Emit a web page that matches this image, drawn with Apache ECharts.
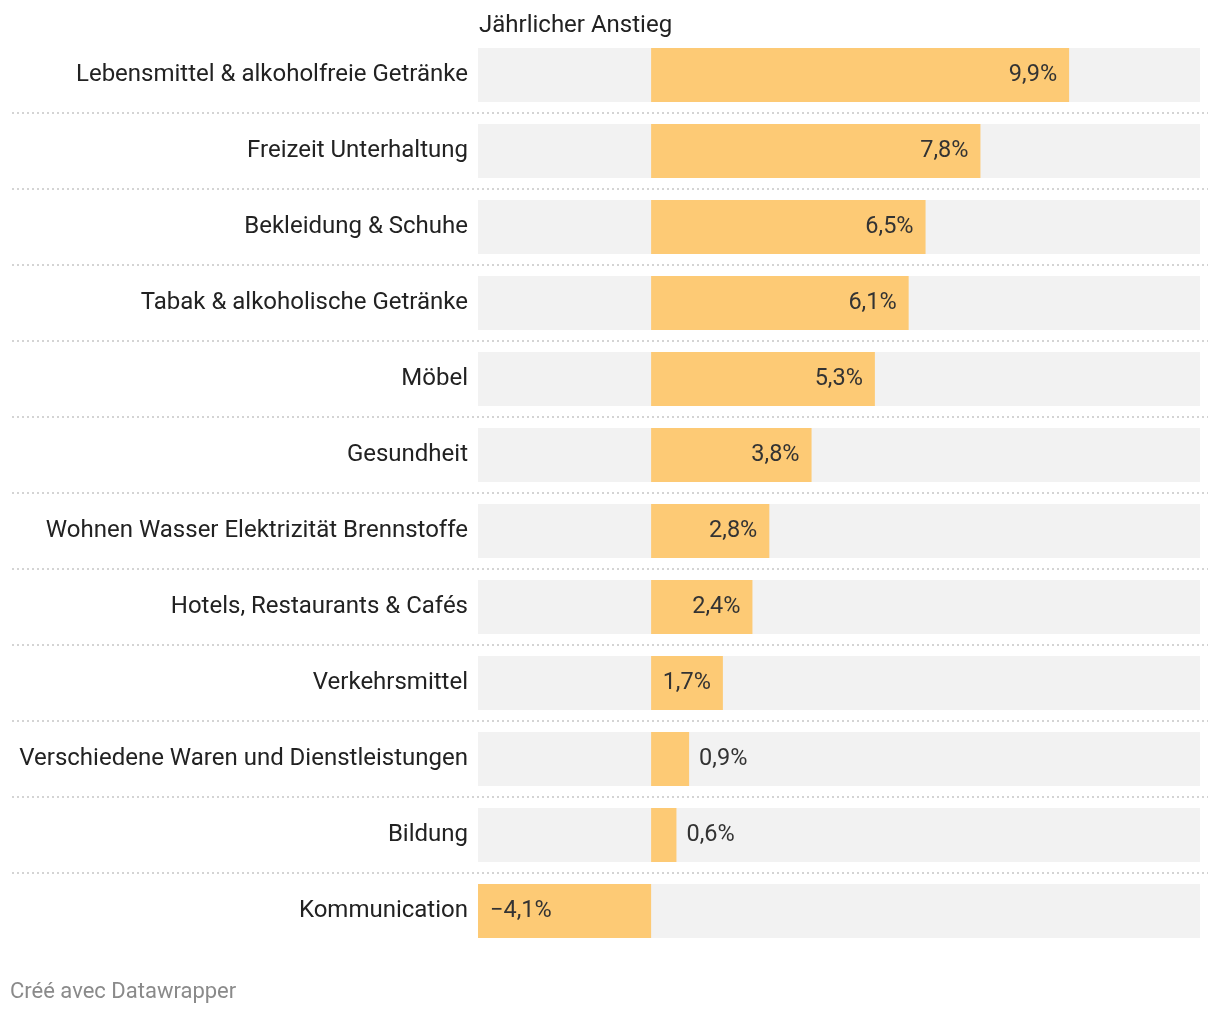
<!DOCTYPE html>
<html>
<head>
<meta charset="utf-8">
<script src="https://cdn.jsdelivr.net/npm/echarts@6/dist/echarts.min.js"></script>
<style>
html,body{margin:0;padding:0;background:#fff;}
#chart{width:1220px;height:1014px;}
</style>
</head>
<body>
<div id="chart"></div>
<script>
const categories = [
  "Lebensmittel & alkoholfreie Getränke",
  "Freizeit Unterhaltung",
  "Bekleidung & Schuhe",
  "Tabak & alkoholische Getränke",
  "Möbel",
  "Gesundheit",
  "Wohnen Wasser Elektrizität Brennstoffe",
  "Hotels, Restaurants & Cafés",
  "Verkehrsmittel",
  "Verschiedene Waren und Dienstleistungen",
  "Bildung",
  "Kommunication"
];
const values = [9.9, 7.8, 6.5, 6.1, 5.3, 3.8, 2.8, 2.4, 1.7, 0.9, 0.6, -4.1];
const axisMin = -4.1;
const axisMax = 13;
const title = "Jährlicher Anstieg";
const footer = "Créé avec Datawrapper";

const FONT = "Roboto";
const chart = echarts.init(document.getElementById('chart'), null, {renderer: 'canvas'});

function fmt(v) {
  return (v < 0 ? "\u2212" : "") + Math.abs(v).toFixed(1).replace('.', ',') + "%";
}

const barData = values.map(v => {
  let pos;
  if (v < 0) pos = 'insideLeft';
  else if (v < 1.2) pos = 'right';
  else pos = 'insideRight';
  return {
    value: v,
    label: {position: pos, distance: pos === 'right' ? 10 : 12}
  };
});

chart.setOption({
  animation: false,
  title: [
    {text: title, left: 474, top: 9, textStyle: {fontFamily: FONT, fontSize: 24, fontWeight: 'normal', color: '#222'}},
    {text: footer, left: 5, top: 976, textStyle: {fontFamily: FONT, fontSize: 22, fontWeight: 'normal', color: '#8a8a8a'}}
  ],
  grid: [
    {left: 478, right: 20, top: 37, bottom: 65, containLabel: false},
    {left: 12, right: 12, top: 113, height: 760, containLabel: false}
  ],
  xAxis: [
    {gridIndex: 0, type: 'value', min: axisMin, max: axisMax, show: false},
    {gridIndex: 1, type: 'value', min: 0, max: 1, show: false}
  ],
  yAxis: [
    {
      gridIndex: 0, type: 'category', data: categories, inverse: true,
      axisLine: {show: false}, axisTick: {show: false}, splitLine: {show: false},
      axisLabel: {fontFamily: FONT, fontSize: 24, color: '#222', margin: 10}
    },
    {
      gridIndex: 1, type: 'value', min: 0, max: 10, interval: 1,
      axisLine: {show: false}, axisTick: {show: false}, axisLabel: {show: false},
      splitLine: {show: true, lineStyle: {color: '#d4d4d4', width: 2, type: [2, 3]}}
    }
  ],
  series: [
    {
      type: 'bar', xAxisIndex: 0, yAxisIndex: 0,
      data: barData,
      barWidth: 54,
      showBackground: true,
      backgroundStyle: {color: '#f2f2f2'},
      itemStyle: {color: '#fdca75'},
      label: {
        show: true, fontFamily: FONT, fontSize: 23.5, color: '#333',
        formatter: p => fmt(p.value)
      }
    }
  ]
});
</script>
</body>
</html>
